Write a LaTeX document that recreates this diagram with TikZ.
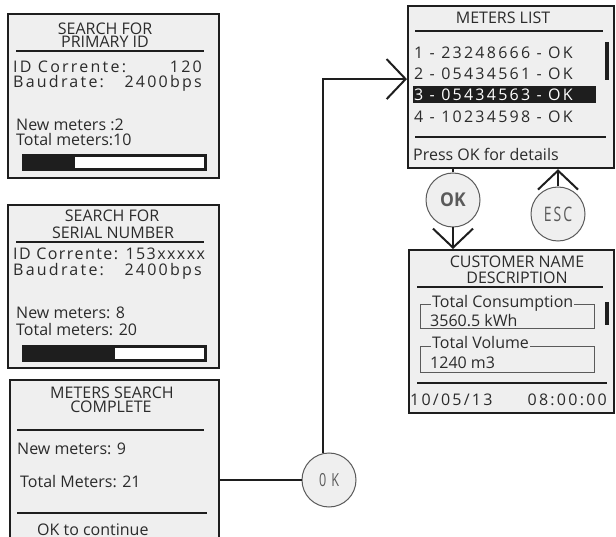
\documentclass[tikz,border=0pt]{standalone}
\usepackage{fontspec}
\usepackage{graphicx}
\usetikzlibrary{arrows.meta,positioning}
\newfontfamily\scr{Open Sans}
\newfontfamily\scrsp{Open Sans}[LetterSpace=14]
\newfontfamily\scrtight{Open Sans}[LetterSpace=9]
\definecolor{panel}{HTML}{EFEFEF}
\definecolor{ink}{HTML}{2B2B2B}
\definecolor{frame}{HTML}{1E1E1E}
\definecolor{key}{HTML}{5A5A5A}

\begin{document}
\begin{tikzpicture}[x=1pt,y=-1pt,
      screen/.style={draw=frame,line width=2.2pt,fill=panel,anchor=north west,inner sep=0},
      head/.style={anchor=base,inner sep=0,text=ink,font=\scr\fontsize{16}{16}\selectfont},
      txt/.style={anchor=base west,inner sep=0,text=ink,font=\scr\fontsize{16}{16}\selectfont},
      num/.style={anchor=base west,inner sep=0,text=ink,font=\scrsp\fontsize{16}{16}\selectfont},
      numr/.style={num,anchor=base east},
      rule/.style={draw=frame,line width=2pt},
      field/.style={draw=key,line width=1pt},
      key node/.style={circle,draw=key,line width=1pt,fill=panel,minimum size=54pt,inner sep=0,text=key},
      link/.style={draw=frame,line width=2pt},
      tip/.style={-{Straight Barb[length=19pt,width=40pt]}}]
      \clip (0,0) rectangle (616,537);

      \node[screen,minimum width=211pt,minimum height=164pt] (prim) at (7,13) {};
      \node[head] (prim1) at (105,34.5) {SEARCH FOR};
      \node[head] (prim2) at (105,47.5) {PRIMARY ID};
      \draw[rule] (16,51) -- (204,51);
      \node[num] (primid) at (13,73) {ID Corrente:};
      \node[numr] (primidv) at (202,73) {120};
      \node[num] (primbd) at (13,88) {Baudrate:};
      \node[numr] (primbdv) at (202,88) {2400bps};
      \node[txt] (primnew) at (16,131) {New meters :2};
      \node[txt] (primtot) at (16,146) {Total meters:10};
      \fill[frame] (22,154) rectangle (207,171);
      \fill[white] (75,157) rectangle (204,168);

      \node[screen,minimum width=211pt,minimum height=163pt] (serial) at (7,204) {};
      \node[head] (serial1) at (112,221.5) {SEARCH FOR};
      \node[head] (serial2) at (113,238.5) {SERIAL NUMBER};
      \draw[rule] (16,242) -- (204,242);
      \node[num,font=\scrtight\fontsize{16}{16}\selectfont] (serialid) at (13,260) {ID Corrente: 153xxxxx};
      \node[num] (serialbd) at (13,276) {Baudrate:};
      \node[numr] (serialbdv) at (202,276) {2400bps};
      \node[txt] (serialnew) at (16,318.5) {New meters: 8};
      \node[txt] (serialtot) at (16,335.5) {Total meters: 20};
      \fill[frame] (22,345) rectangle (207,362);
      \fill[white] (115,348) rectangle (204,359);

      \node[screen,minimum width=209pt,minimum height=175pt] (done) at (9,379) {};
      \node[head] (done1) at (112,398.5) {METERS SEARCH};
      \node[head] (done2) at (111,412.5) {COMPLETE};
      \draw[rule] (17,430) -- (204,430);
      \node[txt] (donenew) at (17,454.5) {New meters: 9};
      \node[txt] (donetot) at (20,487.5) {Total Meters: 21};
      \draw[rule] (17,513) -- (207,513);
      \node[txt] (donego) at (37,535) {OK to continue};

      \node[screen,minimum width=206pt,minimum height=162pt] (list) at (407,5) {};
      \node[head] (list1) at (503,23.5) {METERS LIST};
      \draw[rule] (415,31) -- (603,31);
      \node[num] (row1) at (414,58.5) {1 - 23248666 - OK};
      \node[num] (row2) at (414,80) {2 - 05434561 - OK};
      \fill[frame] (413,86) rectangle (596,103);
      \node[num,text=white] (row3) at (414,101) {3 - 05434563 - OK};
      \node[num] (row4) at (414,122.5) {4 - 10234598 - OK};
      \fill[frame] (605,42) rectangle (609,80);
      \draw[rule] (415,137) -- (606,137);
      \node[txt] (listhint) at (413,160.5) {Press OK for details};

      \node[screen,minimum width=205pt,minimum height=163pt] (cust) at (408,249) {};
      \node[head] (cust1) at (517,267.5) {CUSTOMER NAME};
      \node[head] (cust2) at (517,283.5) {DESCRIPTION};
      \draw[rule] (417,287) -- (603,287);
      \draw[field] (420,305) rectangle (594,329);
      \node[txt,fill=panel,inner sep=1pt] (conslab) at (431,307.5) {Total Consumption};
      \node[txt] (consval) at (430,326.5) {3560.5 kWh};
      \fill[frame] (605,302) rectangle (609,325);
      \draw[field] (420,347) rectangle (594,373);
      \node[txt,fill=panel,inner sep=1pt] (vollab) at (431,348.5) {Total Volume};
      \node[txt] (volval) at (430,368.5) {1240 m3};
      \draw[rule] (417,383) -- (607,383);
      \node[num] (date) at (410,405.5) {10/05/13};
      \node[numr] (time) at (607,405.5) {08:00:00};

      \node[key node] (okA) at (329,480) {\scalebox{0.7}[1]{\scrsp\fontsize{18}{18}\selectfont 0 K}};
      \node[key node] (okB) at (453,200) {\scalebox{0.92}[1]{\scr\bfseries\fontsize{19}{19}\selectfont OK}};
      \node[key node] (esc) at (558,214) {\scalebox{0.7}[1]{\scrsp\fontsize{20}{20}\selectfont ESC}};

      \draw[link] (okA.west) -- (okA.west -| done.east);
      \draw[link,tip] ([xshift=-6pt]okA.north) |- ([yshift=8pt]list.west);
      \draw[link] (okB.north) -- (okB.north |- list.south);
      \draw[link,tip] (okB.south) -- (okB.south |- cust.north);
      \draw[link,tip] (esc.north) -- (esc.north |- list.south);
    \end{tikzpicture}
\end{document}
